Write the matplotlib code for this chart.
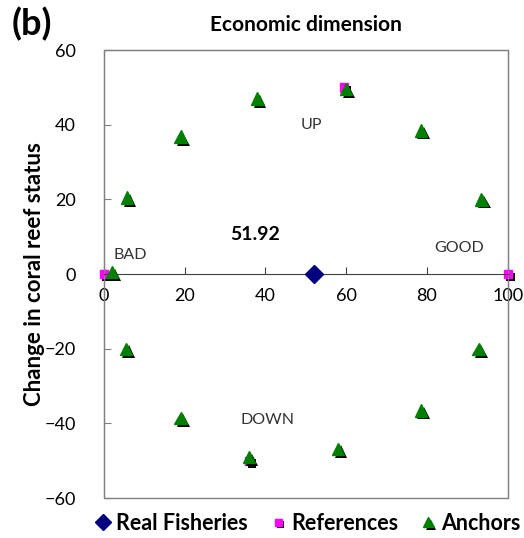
import numpy as np
import matplotlib.pyplot as plt
import matplotlib.patheffects as pe
from matplotlib.patches import Rectangle

plt.rcParams["font.family"] = ["Lato", "DejaVu Sans"]

# %% data
real_x = [51.92]
real_y = [0]
ref_x = [0, 100, 59.5, 36]
ref_y = [0, 0, 50, -50]
anchor_x = [2, 5.8, 19, 38, 60, 78.5, 93.5, 92.8, 78.5, 58, 36, 19, 5.5]
anchor_y = [0.5, 20.5, 36.8, 47, 49.5, 38.5, 20, -20, -36.5, -46.8, -49, -38.5, -20]
x_ticks = [0, 20, 40, 60, 80, 100]
y_ticks = [-60, -40, -20, 0, 20, 40, 60]

# %% plot
fig = plt.figure(figsize=(5.24, 5.38), dpi=100)
ax = fig.add_axes([0.198, 0.074, 0.771, 0.833])
shadow = [pe.SimplePatchShadow(offset=(2, -2), shadow_rgbFace="black", alpha=1), pe.Normal()]

ax.plot(anchor_x, anchor_y, "^", color="green", ms=9, ls="none",
        path_effects=shadow, label="Anchors", zorder=3, clip_on=False)
ax.plot(ref_x, ref_y, "s", color="magenta", ms=6, ls="none",
        path_effects=shadow, label="References", zorder=2, clip_on=False)
ax.plot(real_x, real_y, "D", color="navy", ms=9, ls="none",
        label="Real Fisheries", zorder=4)

ax.set_xlim(0, 100)
ax.set_ylim(-60, 60)
ax.set_xticks(x_ticks)
ax.set_yticks(y_ticks)
ax.spines["bottom"].set_position(("data", 0))
ax.spines["bottom"].set_color("#404040")
for s in ["top", "left", "right"]:
    ax.spines[s].set_color("#808080")
ax.add_patch(Rectangle((0, 0), 1, 1, transform=ax.transAxes, fill=False,
                       ec="#808080", lw=1, clip_on=False))
ax.tick_params(axis="x", direction="in", length=5, color="#404040", labelsize=13, pad=10)
ax.tick_params(axis="y", direction="in", length=5, color="#808080", labelsize=13, pad=20)

ax.text(51.5, 40, "UP", fontsize=11.5, color="#333333", ha="center", va="center")
ax.text(40.5, -39, "DOWN", fontsize=11.5, color="#333333", ha="center", va="center")
ax.text(6.5, 5, "BAD", fontsize=11.5, color="#333333", ha="center", va="center")
ax.text(88, 7, "GOOD", fontsize=11.5, color="#333333", ha="center", va="center")
ax.text(37.5, 10.5, "51.92", fontsize=14, fontweight="bold", ha="center", va="center")

ax.set_ylabel("Change in coral reef status", fontsize=16, fontweight="bold")
ax.yaxis.set_label_coords(-0.145, 0.5)
ax.set_title("Economic dimension", fontsize=15, fontweight="bold", pad=14)
fig.text(0.022, 0.935, "(b)", fontsize=26, fontweight="bold")

handles, labels = ax.get_legend_handles_labels()
order = [2, 1, 0]
fig.legend([handles[i] for i in order], [labels[i] for i in order],
           loc="lower center", bbox_to_anchor=(0.585, -0.028), ncol=3, frameon=False,
           prop={"weight": "bold", "size": 15.5}, handletextpad=0.1, columnspacing=0.9,
           markerscale=0.85, handlelength=1.0)

plt.savefig("out.png", dpi=100)
